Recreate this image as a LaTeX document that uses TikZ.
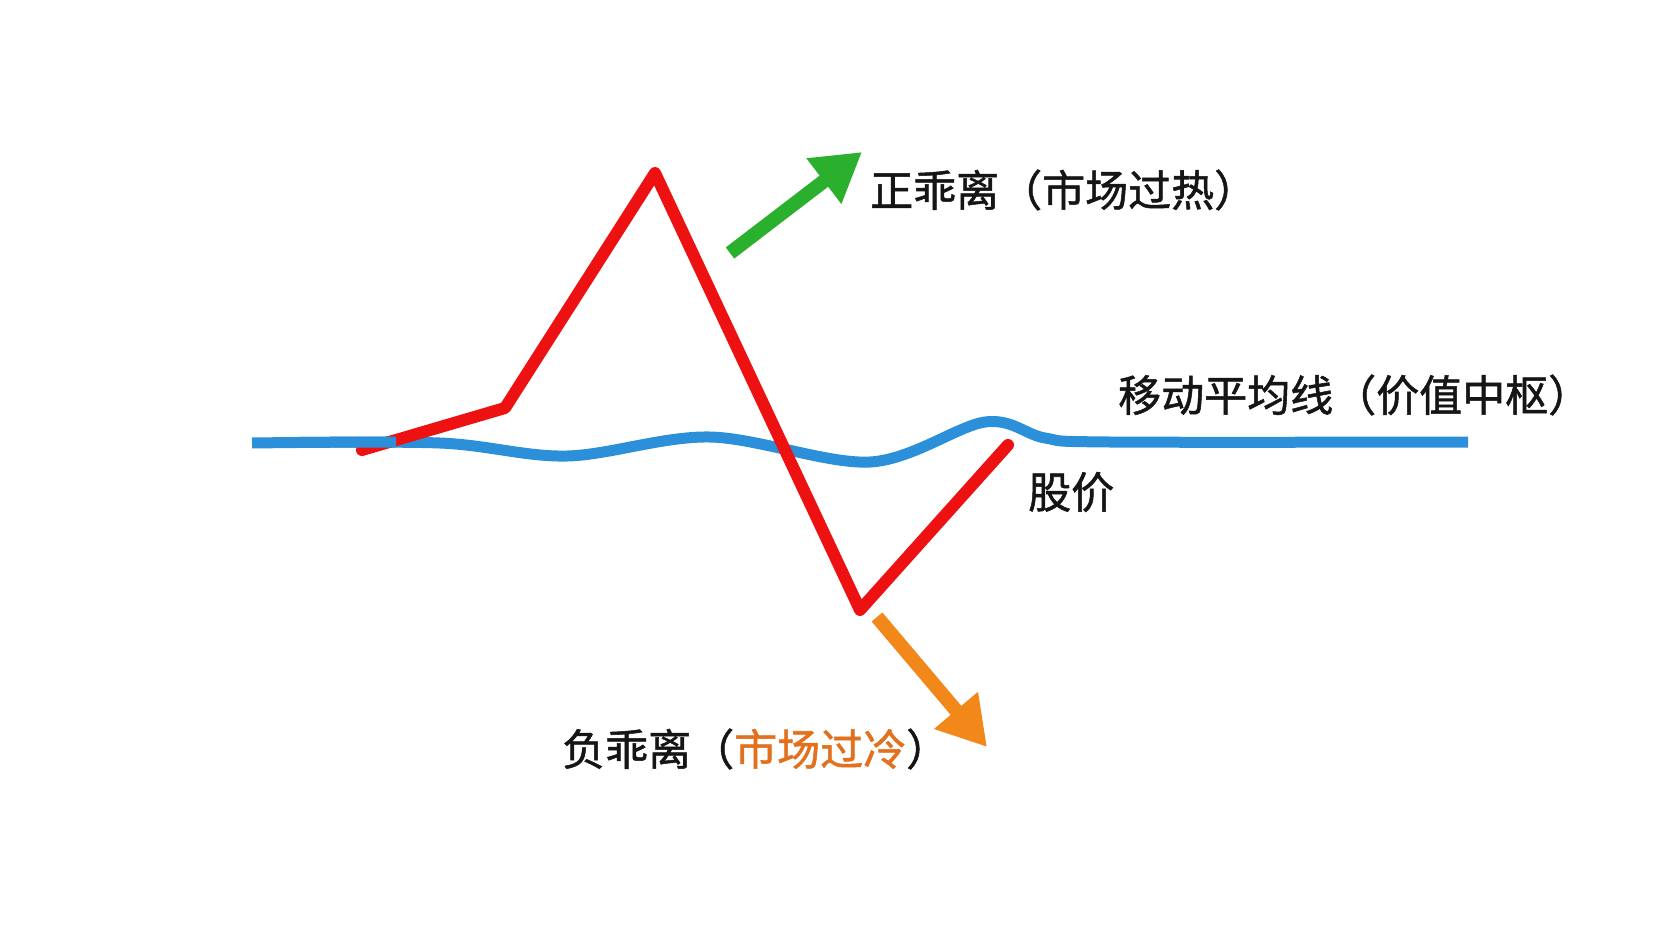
\documentclass[tikz,border=0pt]{standalone}
\usepackage{fontspec}
\newfontfamily\cjk[FakeBold=1.2]{Noto Sans CJK SC}
\usetikzlibrary{arrows.meta}
\definecolor{redline}{HTML}{EE1111}
\definecolor{blueline}{HTML}{2B8FD9}
\definecolor{greenarr}{HTML}{2BB02E}
\definecolor{orangearr}{HTML}{F2871A}
\definecolor{orangetxt}{HTML}{E2701C}
\definecolor{txt}{HTML}{151515}
\tikzset{
  lbl/.style={anchor=west, inner sep=0pt, text=txt, font=\cjk\fontsize{43}{48}\selectfont},
  price/.style={draw=redline, line width=12pt, line join=round, line cap=round},
  ma/.style={draw=blueline, line width=11pt, line cap=butt},
  bigarrow/.style={line width=14pt, line cap=butt, -{Triangle[length=48pt,width=54pt]}},
}
\newcommand\maplot{plot[smooth, tension=0.55] coordinates {(252,443) (440,443) (567,456) (710,437) (870,462) (985,422) (1045,438) (1110,442) (1468,442)}}
\begin{document}
\begin{tikzpicture}[x=1pt,y=-1pt]
\useasboundingbox[fill=white] (0,0) rectangle (1666,937);
% moving average
\draw[ma] \maplot;
% price
\coordinate (p0) at (362,450);
\coordinate (p1) at (505,408);
\coordinate (p2) at (655,173);
\coordinate (p3) at (860,610);
\coordinate (p4) at (1008,445);
\draw[price] (p0) -- (p1) -- (p2) -- (p3) -- (p4);
% blue over the start of price line
\begin{scope}
\clip (300,380) rectangle (396,500);
\draw[ma] \maplot;
\end{scope}
% arrows
\coordinate (g0) at (730,253);
\coordinate (g1) at (862,152);
\draw[bigarrow, draw=greenarr, fill=greenarr] (g0) -- (g1);
\coordinate (o0) at (877,617);
\coordinate (o1) at (987,747);
\draw[bigarrow, draw=orangearr, fill=orangearr] (o0) -- (o1);
% labels
\node[lbl] (pos) at (870,190) {正乖离（市场过热）};
\node[lbl] (mal) at (1118,395) {移动平均线（价值中枢）};
\node[lbl] (prl) at (1028,492) {股价};
\node[lbl] (neg) at (562,749) {负乖离（\textcolor{orangetxt}{市场过冷}）};
\end{tikzpicture}
\end{document}
